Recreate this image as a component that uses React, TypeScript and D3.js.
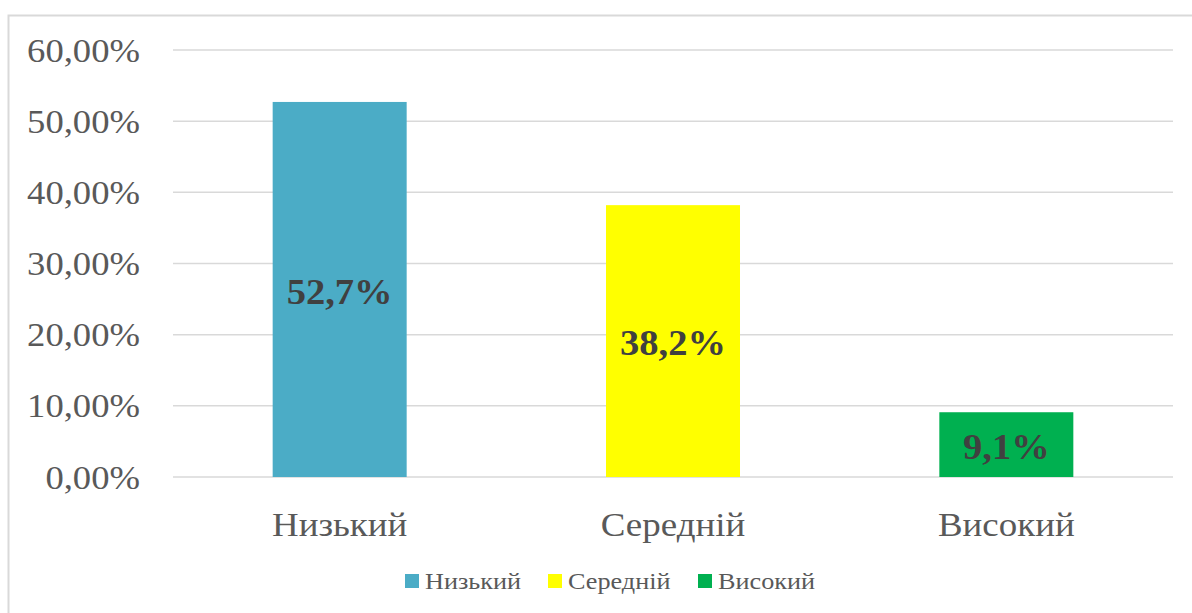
import React, { useEffect, useRef } from "react";
import * as d3 from "d3";

const categories = ["Низький", "Середній", "Високий"];
const values = [52.7, 38.2, 9.1];
const labels = ["52,7%", "38,2%", "9,1%"];
const colors = ["#4bacc6", "#ffff00", "#00b050"];
const yTicks = [0, 10, 20, 30, 40, 50, 60];

export default function App() {
    const svgRef = useRef(null);

    useEffect(() => {
        const w = 1192;
        const h = 613;
        const svg = d3.select(svgRef.current).attr("width", w).attr("height", h);
        svg.selectAll("*").remove();

        const font = "'Liberation Serif', 'Times New Roman', serif";
        // the source text is drawn a little wider than Times
        const at = (px, py, sx) => `translate(${px},${py}) scale(${sx},1)`;

        // outer chart border
        svg.append("rect")
            .attr("x", 8.5).attr("y", 15.5)
            .attr("width", 1220).attr("height", 640)
            .attr("fill", "white")
            .attr("stroke", "#d9d9d9")
            .attr("stroke-width", 2);

        const x = d3.scaleBand().domain(categories).range([173, 1173]).padding(0);
        const y = d3.scaleLinear().domain([0, 60]).range([477, 50]);

        const g = svg.append("g");

        g.selectAll(".grid")
            .data(yTicks)
            .enter()
            .append("line")
            .attr("x1", 173).attr("x2", 1173)
            .attr("y1", d => y(d)).attr("y2", d => y(d))
            .attr("stroke", "#d9d9d9")
            .attr("stroke-width", 1.5);

        g.selectAll(".ytick")
            .data(yTicks)
            .enter()
            .append("text")
            .attr("transform", d => at(140, y(d), 1.11))
            .attr("dy", "0.35em")
            .attr("text-anchor", "end")
            .style("font-family", font)
            .style("font-size", "33px")
            .style("fill", "#595959")
            .text(d => d.toFixed(2).replace(".", ",") + "%");

        const barW = x.bandwidth() * 0.402;

        g.selectAll(".bar")
            .data(values)
            .enter()
            .append("rect")
            .attr("x", (d, i) => x(categories[i]) + x.bandwidth() / 2 - barW / 2)
            .attr("y", d => y(d))
            .attr("width", barW)
            .attr("height", d => y(0) - y(d))
            .attr("fill", (d, i) => colors[i]);

        g.selectAll(".lbl")
            .data(values)
            .enter()
            .append("text")
            .attr("transform", (d, i) => at(x(categories[i]) + x.bandwidth() / 2, (y(d) + y(0)) / 2 + 2, 1.1))
            .attr("dy", "0.35em")
            .attr("text-anchor", "middle")
            .style("font-family", font)
            .style("font-weight", "bold")
            .style("font-size", "35px")
            .style("fill", "#404040")
            .text((d, i) => labels[i]);

        g.selectAll(".xtick")
            .data(categories)
            .enter()
            .append("text")
            .attr("transform", d => at(x(d) + x.bandwidth() / 2, 536, 1.12))
            .attr("text-anchor", "middle")
            .style("font-family", font)
            .style("font-size", "33px")
            .style("fill", "#595959")
            .text(d => d);

        // legend
        const legendX = [405, 548, 698];
        const leg = g.selectAll(".leg")
            .data(categories)
            .enter()
            .append("g")
            .attr("transform", (d, i) => `translate(${legendX[i]},581)`);
        leg.append("rect")
            .attr("x", 0).attr("y", -7)
            .attr("width", 14).attr("height", 14)
            .attr("fill", (d, i) => colors[i]);
        leg.append("text")
            .attr("transform", at(20, 0, 1.14))
            .attr("dy", "0.35em")
            .style("font-family", font)
            .style("font-size", "23px")
            .style("fill", "#595959")
            .text(d => d);
    }, []);

    return (
        <svg ref={svgRef} style={{ position: "absolute", left: 0, top: 0 }} />
    );
}
